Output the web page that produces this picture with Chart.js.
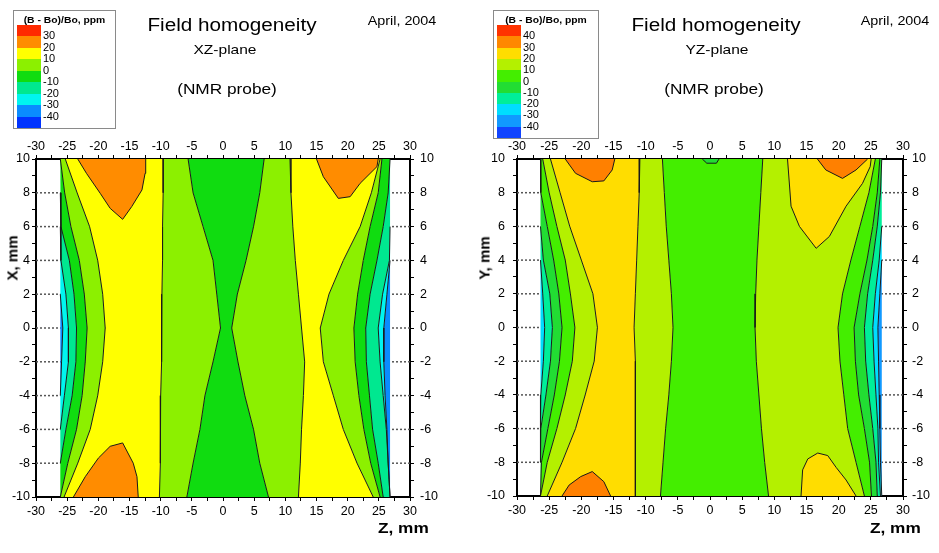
<!DOCTYPE html>
<html>
<head>
<meta charset="utf-8">
<script src="https://cdn.jsdelivr.net/npm/chart.js@4.4.1/dist/chart.umd.min.js"></script>
<style>
  body { margin: 0; background: #fff; width: 939px; height: 553px; position: relative; overflow: hidden;
         font-family: "Liberation Sans", Arial, sans-serif; }
  canvas { position: absolute; top: 0; }
  .t { position: absolute; white-space: nowrap; color: #000; transform: translate(-50%, -50%) scaleX(1.15); line-height: 1; }
  .ax { position: absolute; white-space: nowrap; font-weight: bold; font-size: 15px; line-height: 1; }
  .box { position: absolute; border: 1px solid #8a8a8a; background: #fff; }
  .box .ttl { position: absolute; left: 0; right: 0; top: 4px; text-align: center; font-weight: bold; font-size: 9px;
              transform: scaleX(1.15); }
  .sw { position: absolute; }
  .lb { position: absolute; font-size: 10px; line-height: 1; transform: translateY(-50%) scaleX(1.1); transform-origin: left center; }
</style>
</head>
<body>
<canvas id="xz" width="470" height="553" style="left:0"></canvas>
<canvas id="yz" width="469" height="553" style="left:470px"></canvas>

<div class="box" id="xzLegend" style="left:13px;top:10px;width:101px;height:117px"></div>
<div class="box" id="yzLegend" style="left:493px;top:10px;width:104px;height:127px"></div>

<div class="t" style="left:232px;top:25px;font-size:18px">Field homogeneity</div>
<div class="t" style="left:225px;top:50px;font-size:13.5px">XZ-plane</div>
<div class="t" style="left:227px;top:88px;font-size:15px">(NMR probe)</div>
<div class="t" style="left:402px;top:21px;font-size:12.5px">April, 2004</div>

<div class="t" style="left:716px;top:25px;font-size:18px">Field homogeneity</div>
<div class="t" style="left:717px;top:50px;font-size:13.5px">YZ-plane</div>
<div class="t" style="left:714px;top:88px;font-size:15px">(NMR probe)</div>
<div class="t" style="left:895px;top:21px;font-size:12.5px">April, 2004</div>

<div class="ax" style="left:378px;top:520px;transform:scaleX(1.15);transform-origin:left top">Z, mm</div>
<div class="ax" style="left:870px;top:520px;transform:scaleX(1.15);transform-origin:left top">Z, mm</div>
<div class="ax" style="left:12px;top:258px;transform:translate(-50%,-50%) rotate(-90deg)">X, mm</div>
<div class="ax" style="left:484px;top:258px;transform:translate(-50%,-50%) rotate(-90deg)">Y, mm</div>

<script>
// heights (X or Y, mm) at which each contour line is read
const yGrid = [10, 8, 6, 4, 2, 0, -2, -4, -6, -8, -10];

// ---- XZ plane: z (mm) of each contour line at the yGrid heights ----
const xzEdgeL  = [-26.1, -26.1, -26.1, -26.1, -26.1, -26.1, -26.1, -26.1, -26.1, -26.1, -26.1];
const xzM30a   = [-26.1, -26.1, -26.1, -26.1, -26.1, -25.7, -25.9, -26.1, -26.1, -26.1, -26.1];
const xzM20a   = [-26.1, -26.1, -26.1, -26.0, -25.2, -24.8, -24.8, -25.45, -26.1, -26.1, -26.1];
const xzM10a   = [-26.1, -26.1, -26.0, -24.65, -23.9, -23.5, -23.6, -24.2, -25.2, -26.1, -26.1];
const xzZeroA  = [-26.1, -25.4, -24.4, -23.05, -22.25, -21.8, -22.1, -22.6, -23.5, -24.9, -26.1];
const xzP10a   = [-25.3, -23.4, -21.4, -20.1, -19.3, -18.9, -19.3, -20.1, -21.3, -23.3, -25.5];
const xzP10b   = [-9.6, -9.6, -9.7, -9.7, -9.8, -9.8, -9.9, -10.0, -10.0, -10.1, -10.2];
const xzZeroB  = [-5.6, -4.8, -3.2, -1.6, -1.0, -0.4, -1.6, -2.9, -3.7, -4.8, -5.8];
const xzZeroC  = [6.6, 5.9, 4.9, 3.7, 2.3, 1.4, 2.4, 3.5, 4.9, 5.9, 7.3];
const xzP10c   = [10.75, 10.9, 11.2, 11.6, 12.1, 12.6, 13.1, 12.9, 12.6, 12.4, 12.1];
const xzP10d   = [25.2, 23.8, 22.0, 19.3, 17.0, 15.6, 16.1, 17.7, 19.3, 21.5, 24.1];
const xzZeroD  = [25.5, 24.9, 23.6, 22.5, 21.6, 21.0, 21.2, 21.8, 22.6, 23.7, 25.2];
const xzM10b   = [26.8, 26.5, 25.7, 24.7, 23.6, 22.9, 23.0, 23.5, 24.0, 24.9, 25.7];
const xzM20b   = [26.8, 26.8, 26.8, 26.7, 25.6, 24.9, 25.2, 25.7, 26.2, 26.5, 26.8];
const xzM30b   = [26.8, 26.8, 26.8, 26.8, 26.3, 25.8, 25.8, 26.0, 26.3, 26.5, 26.8];
const xzEdgeR  = [26.8, 26.8, 26.8, 26.8, 26.8, 26.8, 26.8, 26.8, 26.8, 26.8, 26.8];
// closed 20..30 ppm islands, [z, x]
const xzOrangeTL = [[-23.3, 10], [-21.9, 9.15], [-19.7, 7.97], [-18.1, 7.08], [-16.1, 6.43], [-14.65, 7.18], [-13.0, 8.17], [-12.5, 9.15], [-12.4, 10]];
const xzOrangeBL = [[-24.0, -10], [-22.1, -8.8], [-20.0, -7.7], [-18.1, -7.0], [-16.1, -6.8], [-14.4, -8.0], [-13.8, -8.8], [-13.6, -10]];
const xzOrangeTR = [[15.0, 10], [16.1, 8.95], [18.5, 7.67], [20.4, 7.77], [22.0, 8.56], [24.7, 9.55], [24.9, 10]];

// legend XZ (top to bottom)
const xzLegendColors = ['#ff2a00', '#ff8c00', '#ffff00', '#8cf000', '#10dc10', '#00e890', '#00f5f0', '#0a8cff', '#0033ff'];
const xzLegendLabels = ['30', '20', '10', '0', '-10', '-20', '-30', '-40'];

// ---- YZ plane ----
const yzEdgeL  = [-26.35, -26.35, -26.35, -26.35, -26.35, -26.35, -26.35, -26.35, -26.35, -26.35, -26.35];
const yzM20a   = [-26.35, -26.35, -26.35, -26.35, -26.0, -25.7, -25.9, -26.3, -26.35, -26.35, -26.35];
const yzM10a   = [-26.35, -26.35, -26.35, -25.9, -24.9, -24.5, -24.8, -25.5, -26.3, -26.35, -26.35];
const yzZeroA  = [-26.35, -26.3, -25.3, -24.3, -23.5, -23.0, -23.4, -24.2, -25.2, -26.2, -26.35];
const yzP10a   = [-26.0, -25.0, -23.8, -22.5, -21.7, -21.0, -21.4, -22.5, -23.8, -25.3, -26.35];
const yzP20a   = [-24.8, -23.3, -21.8, -20.0, -18.2, -17.5, -18.0, -19.4, -20.9, -23.0, -25.3];
const yzP20b   = [-10.9, -11.0, -11.2, -11.4, -11.6, -11.8, -11.6, -11.6, -11.6, -11.6, -11.6];
const yzP10b   = [-7.4, -7.1, -6.8, -6.4, -6.0, -5.75, -6.0, -6.4, -6.9, -7.3, -7.7];
const yzP10c   = [8.2, 7.9, 7.6, 7.3, 7.1, 7.0, 7.2, 7.6, 8.0, 8.5, 9.1];
const yzP10d   = [25.7, 24.7, 23.3, 21.9, 20.6, 19.9, 20.2, 20.8, 21.4, 22.7, 24.0];
const yzZeroB  = [26.4, 26.0, 25.3, 24.4, 23.3, 22.4, 22.6, 23.1, 24.0, 24.8, 25.1];
const yzM10b   = [26.7, 26.5, 26.0, 25.3, 24.5, 24.0, 24.2, 24.7, 25.3, 25.8, 26.0];
const yzM20b   = [26.7, 26.7, 26.7, 26.3, 25.7, 25.3, 25.5, 25.8, 26.1, 26.2, 26.5];
const yzM30b   = [26.7, 26.7, 26.7, 26.7, 26.4, 26.1, 26.2, 26.3, 26.4, 26.5, 26.7];
const yzEdgeR  = [26.7, 26.7, 26.7, 26.7, 26.7, 26.7, 26.7, 26.7, 26.7, 26.7, 26.7];
const yzOrangeTL = [[-22.5, 10], [-20.9, 9.15], [-18.3, 8.65], [-16.5, 8.7], [-15.2, 9.35], [-14.8, 10]];
const yzOrangeBL = [[-23.0, -10], [-21.9, -9.35], [-20.1, -8.85], [-18.3, -8.55], [-16.5, -9.15], [-15.45, -10]];
const yzOrangeTR = [[16.7, 10], [18.0, 9.35], [20.6, 8.85], [22.7, 9.35], [24.5, 10]];
const yzGoldTR = [[12.05, 10], [12.6, 7.2], [13.9, 6.0], [16.5, 4.7], [18.55, 5.4], [21.15, 7.2], [23.7, 8.55], [24.9, 9.55], [25.05, 10]];
const yzGoldBR = [[14.15, -10], [14.4, -8.45], [15.2, -7.8], [16.75, -7.45], [18.3, -7.6], [19.6, -8.3], [21.15, -9.05], [22.7, -10]];
const yzDipTop = [[-1.2, 10], [-0.5, 9.75], [1.0, 9.75], [1.4, 10]];

const yzLegendColors = ['#ff3300', '#ff8800', '#ffdd00', '#b4f000', '#44ee00', '#22dd33', '#00ee99', '#00ddff', '#1199ff', '#1144ff'];
const yzLegendLabels = ['40', '30', '20', '10', '0', '-10', '-20', '-30', '-40'];

// ---- building datasets ----
const pts = (arr) => arr.map((z, i) => ({ x: z, y: yGrid[i] }));

function bandSet(left, right, color) {
  return {
    data: pts(left).concat(pts(right).reverse()),
    showLine: true, fill: 'shape', backgroundColor: color, borderColor: 'transparent',
    borderWidth: 1, pointRadius: 0, order: 5
  };
}

function islandSet(pairs, color, order) {
  return {
    data: pairs.map(p => ({ x: p[0], y: p[1] })),
    showLine: true, fill: 'shape', backgroundColor: color, borderColor: '#1a1a1a',
    borderWidth: 1, pointRadius: 0, order: order
  };
}

// dashed guide lines at the labelled heights, behind everything
function guideSets() {
  return yGrid.slice(1, -1).map(y => ({
    data: [{ x: -30, y: y }, { x: 30, y: y }],
    showLine: true, fill: false, borderColor: '#555', borderWidth: 1.5, borderDash: [2, 2],
    pointRadius: 0, order: 9
  }));
}

// contour line, only where it is inside the measured region
function lineSets(arr, lo, hi) {
  const inside = arr.map(z => z > lo && z < hi);
  const keep = arr.map((z, i) => inside[i] || inside[i - 1] || inside[i + 1]);
  const sets = [];
  let run = [];
  arr.forEach((z, i) => {
    if (keep[i]) run.push({ x: z, y: yGrid[i] });
    else if (run.length) { sets.push(run); run = []; }
  });
  if (run.length) sets.push(run);
  return sets.filter(r => r.length > 1).map(r => ({
    data: r, showLine: true, fill: false, borderColor: '#1a1a1a', borderWidth: 1, pointRadius: 0, order: 1
  }));
}

function planeSets(bounds, colors, islands, lo, hi) {
  let sets = guideSets();
  for (let i = 0; i < colors.length; i++) sets.push(bandSet(bounds[i], bounds[i + 1], colors[i]));
  sets = sets.concat(islands);
  bounds.slice(1, -1).forEach(b => { sets = sets.concat(lineSets(b, lo, hi)); });
  return sets;
}

const xzBounds = [xzEdgeL, xzM30a, xzM20a, xzM10a, xzZeroA, xzP10a, xzP10b, xzZeroB, xzZeroC, xzP10c, xzP10d, xzZeroD, xzM10b, xzM20b, xzM30b, xzEdgeR];
const xzBandColors = ['#0a8cff', '#00f5f0', '#00e890', '#10dc10', '#8cf000', '#ffff00', '#8cf000', '#10dc10', '#8cf000', '#ffff00', '#8cf000', '#10dc10', '#00e890', '#00f5f0', '#0a8cff'];
const xzIslands = [
  islandSet(xzOrangeTL, '#ff8c00', 3), islandSet(xzOrangeBL, '#ff8c00', 3), islandSet(xzOrangeTR, '#ff8c00', 3)
];

const yzBounds = [yzEdgeL, yzM20a, yzM10a, yzZeroA, yzP10a, yzP20a, yzP20b, yzP10b, yzP10c, yzP10d, yzZeroB, yzM10b, yzM20b, yzM30b, yzEdgeR];
const yzBandColors = ['#00ddff', '#00ee99', '#22dd33', '#44ee00', '#b4f000', '#ffdd00', '#b4f000', '#44ee00', '#b4f000', '#44ee00', '#22dd33', '#00ee99', '#00ddff', '#1199ff'];
const yzIslands = [
  islandSet(yzGoldTR, '#ffdd00', 4), islandSet(yzGoldBR, '#ffdd00', 4),
  islandSet(yzOrangeTL, '#ff8000', 3), islandSet(yzOrangeBL, '#ff8000', 3), islandSet(yzOrangeTR, '#ff8000', 3),
  islandSet(yzDipTop, '#22dd33', 3)
];

Chart.defaults.font.family = '"Liberation Sans", Arial, sans-serif';
Chart.defaults.color = '#000';

function makeChart(id, datasets, box, labelPad) {
  const xAxis = (pos, h) => ({
    type: 'linear', position: pos, min: -30, max: 30,
    afterFit: (s) => { s.height = h; },
    ticks: { stepSize: 2.5, autoSkip: false, maxRotation: 0, font: { size: 12.5 }, padding: pos === 'top' ? 1 : 3,
             callback: (v) => (v % 5 === 0 ? String(v) : '') },
    grid: { drawOnChartArea: false, tickLength: 4, tickColor: '#000' },
    border: { color: '#000', width: 2 }
  });
  const yAxis = (pos, w, pad) => ({
    type: 'linear', position: pos, min: -10, max: 10,
    afterFit: (s) => { s.width = w; },
    ticks: { stepSize: 1, autoSkip: false, font: { size: 12.5 }, padding: pad,
             callback: (v) => (v % 2 === 0 ? String(v) : '') },
    grid: { drawOnChartArea: false, tickLength: 4, tickColor: '#000' },
    border: { color: '#000', width: 2 }
  });
  return new Chart(document.getElementById(id), {
    type: 'scatter',
    data: { datasets: datasets },
    options: {
      responsive: false, animation: false, events: [],
      layout: { padding: { top: 125 } },
      elements: { line: { tension: 0 } },
      plugins: { legend: { display: false }, tooltip: { enabled: false } },
      scales: {
        x: xAxis('bottom', box.bottom),
        x2: xAxis('top', box.top),
        y: yAxis('left', box.left, labelPad[0]),
        y2: yAxis('right', box.right, labelPad[1])
      }
    }
  });
}

makeChart('xz', planeSets(xzBounds, xzBandColors, xzIslands, -26.1, 26.8), { top: 34, bottom: 56, left: 36, right: 60 }, [2, 6]);
makeChart('yz', planeSets(yzBounds, yzBandColors, yzIslands, -26.35, 26.7), { top: 34, bottom: 57, left: 47, right: 36 }, [8, 5]);

// colour-bar legends
function buildLegend(id, colors, labels) {
  const box = document.getElementById(id);
  const ttl = document.createElement('div');
  ttl.className = 'ttl';
  ttl.textContent = '(B - Bo)/Bo, ppm';
  box.appendChild(ttl);
  const top = 14, h = (box.clientHeight - top) / colors.length;
  colors.forEach((c, i) => {
    const s = document.createElement('div');
    s.className = 'sw';
    s.style.cssText = `left:3px;top:${top + i * h}px;width:24px;height:${h + 0.5}px;background:${c}`;
    box.appendChild(s);
  });
  labels.forEach((t, i) => {
    const l = document.createElement('div');
    l.className = 'lb';
    l.style.cssText = `left:29px;top:${top + (i + 1) * h}px`;
    l.textContent = t;
    box.appendChild(l);
  });
}
buildLegend('xzLegend', xzLegendColors, xzLegendLabels);
buildLegend('yzLegend', yzLegendColors, yzLegendLabels);
</script>
</body>
</html>
